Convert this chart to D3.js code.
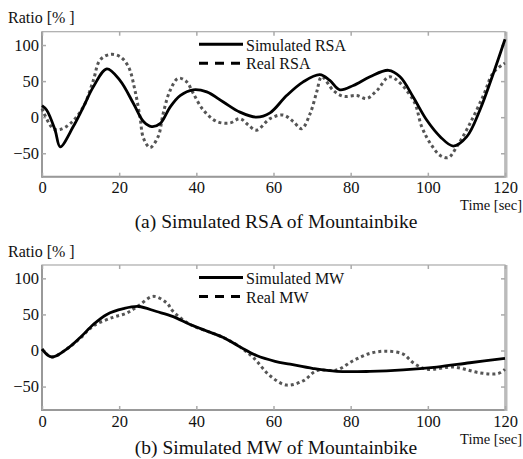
<!DOCTYPE html>
<html>
<head>
<meta charset="utf-8">
<script src="https://cdn.jsdelivr.net/npm/d3@7/dist/d3.min.js"></script>
<style>
    body { margin: 0; background: #fff; }
    text { font-family: "Liberation Serif", "Times New Roman", "DejaVu Serif", serif; fill: #111; }
</style>
</head>
<body>
<div id="chart-area"></div>
<script>
// time axis ticks and y ticks
const xTicks = [0, 20, 40, 60, 80, 100, 120];
const yTicks = [-50, 0, 50, 100];

// (a) RSA - [time sec, ratio %]
const simRSA = [
    [0, 16], [1.2, 10], [3.4, -18], [4.7, -41], [8.1, -13], [10.7, 14], [13.3, 42],
    [16.8, 67], [20.2, 51], [23.7, 19], [26.3, -6], [28.4, -13], [30.6, -9],
    [33.2, 14], [35.8, 30], [39.2, 38], [42.7, 35], [47, 21], [51.3, 7],
    [55.6, 0], [59.1, 6], [63.4, 30], [67.7, 49], [72, 59], [74.6, 51],
    [77.2, 38], [80.7, 44], [85, 56], [89.8, 65], [92.8, 56], [96.2, 28],
    [99.7, -4], [103.2, -27], [106.6, -40], [110.1, -27], [113.5, 10],
    [117, 61], [120, 108]
];
const realRSA = [
    [0, 12], [2.9, -16], [4.7, -17], [7.3, -9], [10.7, 14], [13.3, 51], [15, 79],
    [17.6, 87], [20.2, 84], [22.4, 70], [24.1, 37], [25.4, 0], [26.3, -29],
    [28, -42], [30.1, -27], [31.4, 5], [33.2, 37], [35.3, 54], [37.5, 49],
    [39.2, 33], [41.8, 10], [45.3, -6], [48.7, -8], [51.3, -2], [53.5, -11],
    [55.6, -18], [59.1, -2], [62.5, 3], [65.1, -6], [67.3, -16], [69.5, 5],
    [71.2, 35], [72.5, 56], [75.5, 37], [78.1, 29], [81.6, 30], [84.2, 26],
    [86.8, 37], [90.2, 56], [96.2, 24], [98.4, -13], [100.6, -36], [103.2, -53],
    [105.3, -56], [107.5, -41], [110.9, -9], [114.4, 30], [117, 62], [120, 75]
];

// (b) MW - [time sec, ratio %]
const simMW = [
    [0, 2], [2.5, -9], [6.4, 2], [9.9, 18], [13.3, 36], [16.8, 50], [21.1, 58],
    [25, 61], [29.7, 54], [34, 47], [38.4, 36], [42.7, 27], [47, 18], [51.3, 5],
    [55.6, -7], [60.4, -15], [64.3, -19], [70.3, -25], [76.4, -29], [85, -29],
    [93.6, -27], [102.3, -23], [110.9, -17], [120, -11]
];
const realMW = [
    [0, 2], [2.5, -9], [6.4, 2], [9.9, 17], [13.3, 34], [18.4, 46], [22, 52],
    [25, 62], [28.8, 75], [32.3, 66], [34, 54], [38.4, 36], [42.7, 27], [47, 18],
    [51.3, 5], [54.8, -10], [59.1, -35], [63.4, -48], [67.7, -42], [71.2, -28],
    [76.4, -27], [80.7, -14], [85, -4], [89.3, -1], [93.6, -5], [96.2, -17],
    [99.7, -26], [106.6, -23], [113.5, -31], [118.2, -32], [120, -26]
];

const panels = [
    { sim: simRSA, real: realRSA, simName: "Simulated RSA", realName: "Real RSA",
      caption: "(a)  Simulated RSA of Mountainbike", top: 31.7, captionY: 228 },
    { sim: simMW, real: realMW, simName: "Simulated MW", realName: "Real MW",
      caption: "(b)  Simulated MW of Mountainbike", top: 265, captionY: 454 }
];

const margin = { left: 42, right: 18 };
const width = 523 - margin.left - margin.right;
const height = 145;

const svg = d3.select("#chart-area")
    .append("svg")
    .attr("width", 523)
    .attr("height", 459);

const x = d3.scaleLinear()
    .domain([0, 120])
    .range([0, width]);

const y = d3.scaleLinear()
    .domain([-82.5, 118.5])
    .range([height, 0]);

const line = d3.line()
    .x(function(d) { return x(d[0]); })
    .y(function(d) { return y(d[1]); })
    .curve(d3.curveCatmullRom.alpha(0.5));

panels.forEach(function(p) {
    const g = svg.append("g")
        .attr("transform", "translate(" + margin.left + ", " + p.top + ")");

    // frame
    g.append("rect")
        .attr("width", width)
        .attr("height", height)
        .attr("fill", "#fff")
        .attr("stroke", "#aaa")
        .attr("stroke-width", 1.2);
    g.append("line")
        .attr("x1", 0).attr("x2", 0)
        .attr("y1", 0).attr("y2", height + 1)
        .attr("stroke", "#999").attr("stroke-width", 2);
    g.append("line")
        .attr("x1", 0).attr("x2", width + 1)
        .attr("y1", height).attr("y2", height)
        .attr("stroke", "#999").attr("stroke-width", 2);
    g.append("line")
        .attr("x1", width + 1).attr("x2", width + 1)
        .attr("y1", 0).attr("y2", height + 1)
        .attr("stroke", "#bbb").attr("stroke-width", 3);

    // X Axis (labels + inward ticks)
    const xAxisGroup = g.append("g")
        .attr("class", "x axis")
        .attr("transform", "translate(0," + height + ")")
        .call(d3.axisBottom(x).tickValues(xTicks).tickSize(-4));
    // top ticks
    g.append("g")
        .call(d3.axisTop(x).tickValues(xTicks).tickSize(-4).tickFormat(""));

    // Y Axis
    const yAxisGroup = g.append("g")
        .attr("class", "y axis")
        .call(d3.axisLeft(y).tickValues(yTicks).tickSize(-4).tickPadding(3));
    g.append("g")
        .attr("transform", "translate(" + width + ",0)")
        .call(d3.axisRight(y).tickValues(yTicks).tickSize(-4).tickFormat(""));

    g.selectAll(".domain").remove();
    g.selectAll(".tick line").attr("stroke", "#aaa").attr("stroke-width", 1.5);
    g.selectAll(".tick text")
        .attr("font-size", "16.5px")
        .attr("font-family", "Liberation Serif")
        .attr("fill", "#111");
    xAxisGroup.selectAll(".tick text").attr("dy", null).attr("y", 16.5);

    // lines
    g.append("path")
        .datum(p.real)
        .attr("fill", "none")
        .attr("stroke", "#555")
        .attr("stroke-width", 3)
        .attr("stroke-dasharray", "3,3")
        .attr("d", line);
    g.append("path")
        .datum(p.sim)
        .attr("fill", "none")
        .attr("stroke", "#000")
        .attr("stroke-width", 2.8)
        .attr("d", line);

    // Legend
    g.append("line")
        .attr("x1", 157).attr("x2", 201)
        .attr("y1", 12.5).attr("y2", 12.5)
        .attr("stroke", "#000").attr("stroke-width", 3);
    g.append("line")
        .attr("x1", 157).attr("x2", 201)
        .attr("y1", 31.5).attr("y2", 31.5)
        .attr("stroke", "#000").attr("stroke-width", 3)
        .attr("stroke-dasharray", "9,7");
    g.append("text")
        .attr("x", 204).attr("y", 19)
        .attr("font-size", "16px")
        .text(p.simName);
    g.append("text")
        .attr("x", 204).attr("y", 37.5)
        .attr("font-size", "16px")
        .text(p.realName);

    // Y Label
    g.append("text")
        .attr("x", 8 - margin.left).attr("y", -8.5)
        .attr("font-size", "16px")
        .text("Ratio [% ]");

    // X Label
    g.append("text")
        .attr("x", 522 - margin.left).attr("y", height + 33.5)
        .attr("text-anchor", "end")
        .attr("font-size", "14.5px")
        .text("Time [sec]");

    // caption
    g.append("text")
        .attr("x", 276 - margin.left).attr("y", p.captionY - p.top)
        .attr("text-anchor", "middle")
        .attr("font-size", "19.5px")
        .text(p.caption);
});
</script>
</body>
</html>
